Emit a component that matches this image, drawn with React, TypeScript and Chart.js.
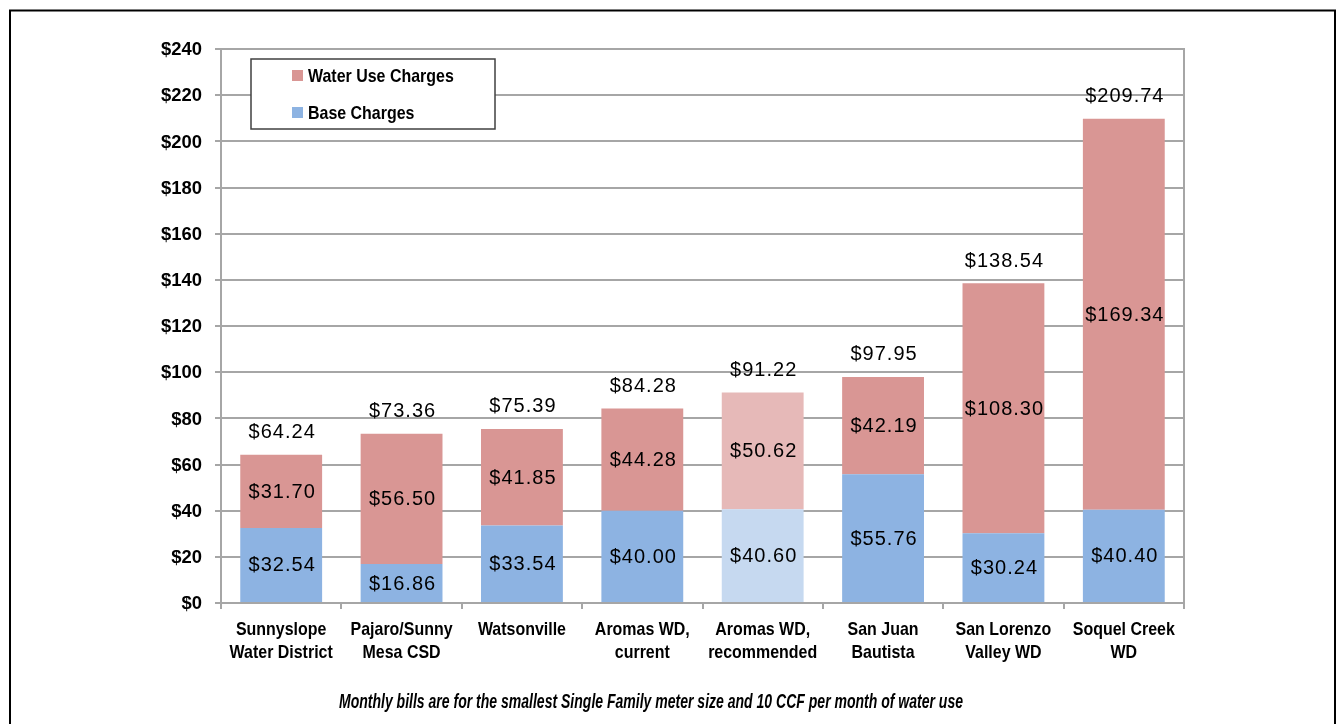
import React, { useEffect, useRef } from 'react';
import { Chart, registerables } from 'chart.js';

Chart.register(...registerables);

const categories: string[][] = [
  ['Sunnyslope', 'Water District'],
  ['Pajaro/Sunny', 'Mesa CSD'],
  ['Watsonville'],
  ['Aromas WD,', 'current'],
  ['Aromas WD,', 'recommended'],
  ['San Juan', 'Bautista'],
  ['San Lorenzo', 'Valley WD'],
  ['Soquel Creek', 'WD'],
];
const baseCharges = [32.54, 16.86, 33.54, 40.0, 40.6, 55.76, 30.24, 40.4];
const waterUseCharges = [31.7, 56.5, 41.85, 44.28, 50.62, 42.19, 108.3, 169.34];
const highlightIndex = 4;
const yMin = 0;
const yMax = 240;
const yStep = 20;
const legendLabels = ['Water Use Charges', 'Base Charges'];
const caption =
  'Monthly bills are for the smallest Single Family meter size and 10 CCF per month of water use';

const RED = '#d99694';
const BLUE = '#8db3e2';
const RED_LIGHT = '#e6b9b8';
const BLUE_LIGHT = '#c6d9f0';
const GRID = '#a6a6a6';
const SANS = '"Liberation Sans", Arial, sans-serif';
const NARROW = 0.84;

const money = (v: number) => '$' + v.toFixed(2);

function squeezeText(
  ctx: CanvasRenderingContext2D,
  text: string,
  x: number,
  y: number,
  sx: number,
  align: CanvasTextAlign
) {
  ctx.save();
  ctx.translate(x, y);
  ctx.scale(sx, 1);
  ctx.textAlign = align;
  ctx.fillText(text, 0, 0);
  ctx.restore();
}

const overlayPlugin = {
  id: 'overlay',
  afterDatasetsDraw(chart: any) {
    const ctx = chart.ctx as CanvasRenderingContext2D;
    const area = chart.chartArea;
    ctx.save();
    // plot border
    ctx.strokeStyle = GRID;
    ctx.lineWidth = 2;
    ctx.strokeRect(area.left, area.top, area.right - area.left, area.bottom - area.top);

    // segment value labels
    ctx.fillStyle = '#000';
    ctx.font = `20px ${SANS}`;
    (ctx as any).letterSpacing = '1px';
    ctx.textAlign = 'center';
    ctx.textBaseline = 'middle';
    chart.data.datasets.forEach((ds: any, di: number) => {
      const meta = chart.getDatasetMeta(di);
      meta.data.forEach((bar: any, i: number) => {
        const y = (bar.y + bar.base) / 2;
        ctx.fillText(money(ds.data[i]), bar.x + 1, y + 1);
      });
    });
    // totals
    const topMeta = chart.getDatasetMeta(chart.data.datasets.length - 1);
    topMeta.data.forEach((bar: any, i: number) => {
      const total = baseCharges[i] + waterUseCharges[i];
      ctx.fillText(money(total), bar.x + 1, bar.y - 22);
    });
    (ctx as any).letterSpacing = '0px';

    // y tick labels
    const yScale = chart.scales.y;
    ctx.font = `bold 19px ${SANS}`;
    yScale.ticks.forEach((t: any, i: number) => {
      const py = yScale.getPixelForTick(i);
      squeezeText(ctx, '$' + t.value, area.left - 19, py + 1, 0.97, 'right');
    });

    // x tick labels
    const xScale = chart.scales.x;
    categories.forEach((lines, i) => {
      const px = xScale.getPixelForTick(i);
      lines.forEach((line, li) => {
        squeezeText(ctx, line, px, area.bottom + 27 + li * 23, NARROW, 'center');
      });
    });

    // legend
    const lx = 251, ly = 59, lw = 244, lh = 70;
    ctx.fillStyle = '#fff';
    ctx.fillRect(lx, ly, lw, lh);
    ctx.strokeStyle = '#404040';
    ctx.lineWidth = 1.5;
    ctx.strokeRect(lx, ly, lw, lh);
    const items = [
      { label: legendLabels[0], color: RED, y: 76 },
      { label: legendLabels[1], color: BLUE, y: 113 },
    ];
    items.forEach((it) => {
      ctx.fillStyle = it.color;
      ctx.fillRect(292, it.y - 6, 11, 11);
      ctx.fillStyle = '#000';
      squeezeText(ctx, it.label, 308, it.y + 1, NARROW, 'left');
    });

    // caption
    ctx.font = `italic bold 20px ${SANS}`;
    const w = ctx.measureText(caption).width;
    squeezeText(ctx, caption, 651, 702, 624 / w, 'center');

    // outer frame
    ctx.strokeStyle = '#000';
    ctx.lineWidth = 2;
    ctx.strokeRect(10, 10.5, 1325, 800);
    ctx.restore();
  },
};

export default function App() {
  const ref = useRef<HTMLCanvasElement | null>(null);
  useEffect(() => {
    if (!ref.current) return;
    const colorsFor = (base: string, light: string) =>
      baseCharges.map((_, i) => (i === highlightIndex ? light : base));
    const chart = new Chart(ref.current, {
      type: 'bar',
      data: {
        labels: categories,
        datasets: [
          {
            label: legendLabels[1],
            data: baseCharges,
            backgroundColor: colorsFor(BLUE, BLUE_LIGHT),
            borderWidth: 0,
            categoryPercentage: 1,
            barPercentage: 0.68,
          },
          {
            label: legendLabels[0],
            data: waterUseCharges,
            backgroundColor: colorsFor(RED, RED_LIGHT),
            borderWidth: 0,
            categoryPercentage: 1,
            barPercentage: 0.68,
          },
        ],
      },
      options: {
        responsive: false,
        animation: false,
        devicePixelRatio: 1,
        layout: { padding: { left: 0, top: 49, right: 154, bottom: 0 } },
        plugins: { legend: { display: false }, tooltip: { enabled: false } },
        scales: {
          x: {
            stacked: true,
            grid: {
              display: true,
              drawOnChartArea: false,
              drawTicks: true,
              tickLength: 6,
              color: GRID,
              lineWidth: 2,
              offset: true,
            },
            border: { display: true, color: GRID, width: 2 },
            ticks: { display: false, autoSkip: false, maxRotation: 0 },
            afterFit: (scale: any) => {
              scale.height = 121;
            },
          },
          y: {
            stacked: true,
            min: yMin,
            max: yMax,
            grid: { color: GRID, lineWidth: 2, drawTicks: true, tickLength: 6 },
            border: { display: true, color: GRID, width: 2 },
            ticks: { display: false, stepSize: yStep },
            afterFit: (scale: any) => {
              scale.width = 221;
            },
          },
        },
      },
      plugins: [overlayPlugin],
    });
    return () => chart.destroy();
  }, []);
  return (
    <canvas
      ref={ref}
      width={1338}
      height={724}
      style={{ position: 'absolute', left: 0, top: 0, width: 1338, height: 724 }}
    />
  );
}
